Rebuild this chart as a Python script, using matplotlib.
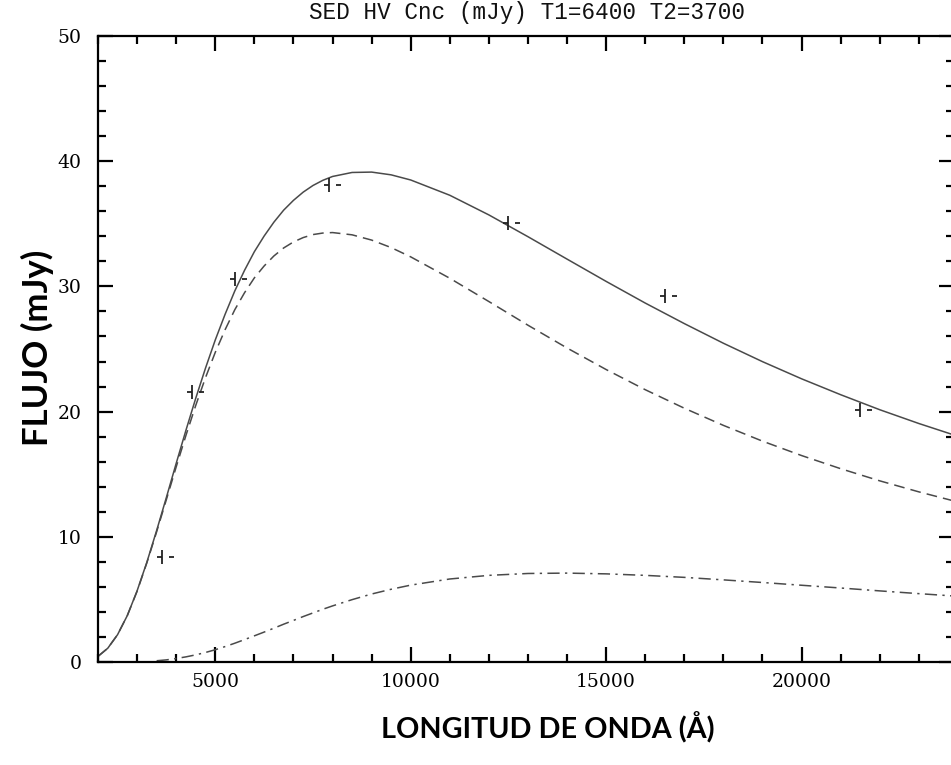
import numpy as np
import matplotlib
matplotlib.use("Agg")
import matplotlib.pyplot as plt
from matplotlib.path import Path
from matplotlib.ticker import MultipleLocator

# ---- data ----
obs_wave = [3650, 4400, 5500, 7900, 12500, 16500, 21500]
obs_flux = [8.4, 21.6, 30.6, 38.1, 35.1, 29.2, 20.1]

curve_wave = [2000, 2250, 2500, 2750, 3000, 3250, 3500, 3750, 4000, 4250, 4500,
              4750, 5000, 5250, 5500, 5750, 6000, 6250, 6500, 6750, 7000, 7250,
              7500, 7750, 8000, 8500, 9000, 9500, 10000, 11000, 12000, 13000,
              14000, 15000, 16000, 17000, 18000, 19000, 20000, 21000, 22000,
              23000, 24000]
total_flux = [0.45, 1.10, 2.18, 3.71, 5.68, 7.97, 10.5, 13.15, 15.86, 18.51, 21.06,
              23.47, 25.72, 27.76, 29.64, 31.29, 32.77, 34.02, 35.13, 36.09, 36.87, 37.53,
              38.06, 38.47, 38.78, 39.10, 39.13, 38.91, 38.50, 37.28, 35.71, 33.97,
              32.18, 30.40, 28.67, 27.03, 25.46, 23.99, 22.62, 21.35, 20.15,
              19.05, 18.03]
hot_flux = [0.45, 1.10, 2.18, 3.71, 5.65, 7.92, 10.40, 12.98, 15.58, 18.10, 20.49,
            22.71, 24.73, 26.53, 28.14, 29.50, 30.68, 31.63, 32.43, 33.07, 33.55, 33.90,
            34.14, 34.26, 34.30, 34.12, 33.70, 33.10, 32.36, 30.65, 28.79, 26.90,
            25.08, 23.36, 21.75, 20.27, 18.90, 17.64, 16.49, 15.44, 14.47,
            13.59, 12.78]
cool_wave = [3500, 3750, 4000, 4250, 4500, 4750, 5000, 5250, 5500, 5750, 6000,
             6250, 6500, 6750, 7000, 7250, 7500, 7750, 8000, 8500, 9000, 9500,
             10000, 11000, 12000, 13000, 14000, 15000, 16000, 17000, 18000,
             19000, 20000, 21000, 22000, 23000, 24000]
cool_flux = [0.10, 0.17, 0.28, 0.41, 0.57, 0.76, 0.98, 1.23, 1.50, 1.79, 2.09,
             2.39, 2.70, 3.02, 3.32, 3.63, 3.92, 4.21, 4.48, 4.98, 5.43, 5.81,
             6.14, 6.63, 6.92, 7.07, 7.10, 7.04, 6.92, 6.76, 6.56,
             6.35, 6.13, 5.91, 5.68, 5.46, 5.25]

title = "SED HV Cnc (mJy) T1=6400 T2=3700"
xlabel = "LONGITUD DE ONDA (\u00c5)"
ylabel = "FLUJO (mJy)"

# ---- figure ----
W, H = 951, 765
fig = plt.figure(figsize=(W / 100, H / 100), dpi=100)
x0, x1 = 98, 954
y0, y1 = 662, 36
ax = fig.add_axes([x0 / W, (H - y0) / H, (x1 - x0) / W, (y0 - y1) / H])

line_col = "#4a4a4a"
ax.plot(curve_wave, total_flux, color=line_col, lw=1.1, solid_joinstyle="round")
ax.plot(curve_wave, hot_flux, color=line_col, lw=1.1, linestyle=(0, (7, 4)))
ax.plot(cool_wave, cool_flux, color=line_col, lw=1.1, linestyle=(0, (8, 3.5, 1.5, 3.5)))

# observation marker: "-|  -"
verts = [(-5, 0), (0, 0), (0, -7), (0, 7), (6.5, 0), (11.5, 0)]
codes = [Path.MOVETO, Path.LINETO, Path.MOVETO, Path.LINETO, Path.MOVETO, Path.LINETO]
mk = Path(verts, codes)
ax.plot(obs_wave, obs_flux, linestyle="none", marker=mk, markersize=17,
        markeredgewidth=1.3, color="#222222")

ax.set_xlim(2000, 23900)
ax.set_ylim(0, 50)
ax.xaxis.set_major_locator(MultipleLocator(5000))
ax.xaxis.set_minor_locator(MultipleLocator(1000))
ax.yaxis.set_major_locator(MultipleLocator(10))
ax.yaxis.set_minor_locator(MultipleLocator(2))

for s in ax.spines.values():
    s.set_linewidth(1.6)
ax.tick_params(which="both", direction="in", top=True, right=True, width=1.6)
ax.tick_params(which="major", length=11)
ax.tick_params(which="minor", length=5.5)
ax.tick_params(axis="x", which="major", pad=8)
ax.tick_params(axis="y", which="major", pad=12)

for lab in ax.get_xticklabels() + ax.get_yticklabels():
    lab.set_fontfamily("DejaVu Serif")
    lab.set_fontsize(13.5)

fig.text(527 / W, 1 - 13 / H, title, ha="center", va="center",
         family="Liberation Mono", fontsize=16.3, color="#111111")
fig.text(548 / W, 1 - 728 / H, xlabel, ha="center", va="center",
         family="Lato", fontweight="bold", fontsize=20.7)
fig.text(37 / W, 1 - 348 / H, ylabel, ha="center", va="center", rotation=90,
         family="Lato", fontweight="bold", fontsize=25)

fig.savefig("out.png", dpi=100)
